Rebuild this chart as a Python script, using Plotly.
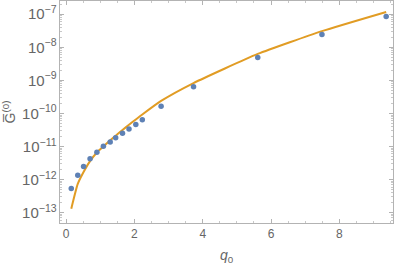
import plotly.graph_objects as go

q0 = [0.15, 0.34, 0.51, 0.70, 0.90, 1.09, 1.29, 1.45, 1.65, 1.84, 2.04, 2.23, 2.78, 3.73, 5.61, 7.49, 9.37]
log_g_points = [-12.27, -11.87, -11.60, -11.37, -11.17, -10.99, -10.86, -10.73, -10.60, -10.47,
                -10.33, -10.19, -9.78, -9.19, -8.31, -7.61, -7.07]
log_g_line = [-12.88, -12.13, -11.77, -11.44, -11.18, -11.00, -10.81, -10.67, -10.50, -10.34,
              -10.18, -10.03, -9.62, -9.08, -8.20, -7.51, -6.93]

g_points = [10 ** v for v in log_g_points]
g_line = [10 ** v for v in log_g_line]

fig = go.Figure()
fig.add_trace(go.Scatter(x=q0, y=g_line, mode="lines",
                         line=dict(color="#E19C24", width=2, shape="spline", smoothing=0.5),
                         showlegend=False))
fig.add_trace(go.Scatter(x=q0, y=g_points, mode="markers",
                         marker=dict(color="#5E81B5", size=5.5), showlegend=False))

axis_common = dict(showgrid=False, zeroline=False, showline=True, linecolor="#b3b3b3",
                   linewidth=1, mirror="allticks", ticks="inside", tickcolor="#b3b3b3",
                   automargin=False,
                   tickfont=dict(family="Liberation Sans", size=12, color="#666666"))

fig.update_xaxes(range=[-0.18, 9.57], dtick=2, tick0=0, ticklen=4,
                 minor=dict(dtick=0.5, ticks="inside", ticklen=2, tickcolor="#c8c8c8"),
                 title=dict(text="<i>q</i><sub>0</sub>", standoff=10,
                            font=dict(family="Liberation Sans", size=14, color="#666666")),
                 **axis_common)
fig.update_yaxes(type="log", range=[-13.31, -6.6], dtick=1, exponentformat="power",
                 ticklen=4,
                 minor=dict(dtick="D1", ticks="inside", ticklen=2, tickcolor="#c8c8c8"),
                 title=dict(text="G\u0305<sup>(0)</sup>", standoff=5,
                            font=dict(family="Liberation Sans", size=14, color="#666666")),
                 **axis_common)

fig.update_layout(width=399, height=265, margin=dict(l=60, r=6, t=1, b=42),
                  plot_bgcolor="white", paper_bgcolor="white")

fig.write_html("out.html", config={"displayModeBar": False},
               post_script="document.body.style.margin='0';document.body.style.padding='0';")
